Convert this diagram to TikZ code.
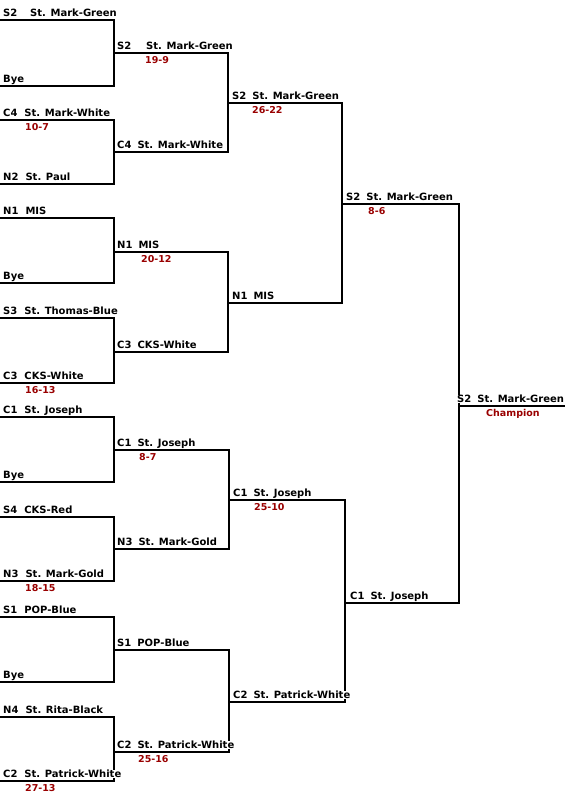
\documentclass[tikz,border=0pt]{standalone}
\usepackage{fontspec}
\setmainfont{DejaVu Sans}
\usetikzlibrary{positioning}
\definecolor{scorered}{RGB}{153,0,0}
\newcommand{\teamlabel}[3][7pt]{#2\hspace{#1}#3}

\begin{document}
\begin{tikzpicture}[x=1pt,y=-1pt,
    bracket/.style={line width=2pt},
    team/.style={anchor=base west,inner sep=0pt,text depth=0pt,fill=white,
      font=\bfseries\fontsize{10}{12}\selectfont,xshift=3pt,yshift=3.5pt},
    result/.style={anchor=base west,inner sep=0pt,text=scorered,
      font=\bfseries\fontsize{9.5}{11}\selectfont,xshift=25pt,yshift=-10.5pt}]
  \useasboundingbox (0,0) rectangle (565,800);

  % first round
  \coordinate (a1) at (0,20);   \coordinate (a2) at (0,86);
  \coordinate (a3) at (0,120);  \coordinate (a4) at (0,184);
  \coordinate (a5) at (0,218);  \coordinate (a6) at (0,283);
  \coordinate (a7) at (0,318);  \coordinate (a8) at (0,383);
  \coordinate (a9) at (0,417);  \coordinate (a10) at (0,482);
  \coordinate (a11) at (0,517); \coordinate (a12) at (0,581);
  \coordinate (a13) at (0,617); \coordinate (a14) at (0,682);
  \coordinate (a15) at (0,717); \coordinate (a16) at (0,781);
  % second round
  \coordinate (b1) at (114,53);  \coordinate (b2) at (114,152);
  \coordinate (b3) at (114,252); \coordinate (b4) at (114,352);
  \coordinate (b5) at (114,450); \coordinate (b6) at (114,549);
  \coordinate (b7) at (114,650); \coordinate (b8) at (114,752);
  % semifinals and final
  \coordinate (c1) at (228,103); \coordinate (c2) at (228,303);
  \coordinate (c3) at (229,500); \coordinate (c4) at (229,702);
  \coordinate (d1) at (342,204); \coordinate (d2) at (345,603);
  \coordinate (e) at (459,406);  \coordinate (eend) at (565,406);

  \draw[bracket] (a1) -| (b1) |- (a2);
  \draw[bracket] (a3) -| (b2) |- (a4);
  \draw[bracket] (a5) -| (b3) |- (a6);
  \draw[bracket] (a7) -| (b4) |- (a8);
  \draw[bracket] (a9) -| (b5) |- (a10);
  \draw[bracket] (a11) -| (b6) |- (a12);
  \draw[bracket] (a13) -| (b7) |- (a14);
  \draw[bracket] (a15) -| (b8) |- (a16);
  \draw[bracket] (b1) -| (c1) |- (b2);
  \draw[bracket] (b3) -| (c2) |- (b4);
  \draw[bracket] (b5) -| (c3) |- (b6);
  \draw[bracket] (b7) -| (c4) |- (b8);
  \draw[bracket] (c1) -| (d1) |- (c2);
  \draw[bracket] (c3) -| (d2) |- (c4);
  \draw[bracket] (d1) -| (e) |- (d2);
  \draw[bracket] (e) -- (eend);

  % team names
  \node[team] (ta1) at (a1) {\teamlabel[12.8pt]{S2}{St. Mark-Green}};
  \node[team] (ta2) at (a2) {Bye};
  \node[team] (ta3) at (a3) {\teamlabel{C4}{St. Mark-White}};
  \node[team] (ta4) at (a4) {\teamlabel{N2}{St. Paul}};
  \node[team] (ta5) at (a5) {\teamlabel{N1}{MIS}};
  \node[team] (ta6) at (a6) {Bye};
  \node[team] (ta7) at (a7) {\teamlabel{S3}{St. Thomas-Blue}};
  \node[team] (ta8) at (a8) {\teamlabel{C3}{CKS-White}};
  \node[team] (ta9) at (a9) {\teamlabel{C1}{St. Joseph}};
  \node[team] (ta10) at (a10) {Bye};
  \node[team] (ta11) at (a11) {\teamlabel{S4}{CKS-Red}};
  \node[team] (ta12) at (a12) {\teamlabel{N3}{St. Mark-Gold}};
  \node[team] (ta13) at (a13) {\teamlabel{S1}{POP-Blue}};
  \node[team] (ta14) at (a14) {Bye};
  \node[team] (ta15) at (a15) {\teamlabel{N4}{St. Rita-Black}};
  \node[team] (ta16) at (a16) {\teamlabel{C2}{St. Patrick-White}};

  \node[team] (tb1) at (b1) {\teamlabel[14.8pt]{S2}{St. Mark-Green}};
  \node[team] (tb2) at (b2) {\teamlabel[6pt]{C4}{St. Mark-White}};
  \node[team] (tb3) at (b3) {\teamlabel[6pt]{N1}{MIS}};
  \node[team] (tb4) at (b4) {\teamlabel[6pt]{C3}{CKS-White}};
  \node[team] (tb5) at (b5) {\teamlabel[6pt]{C1}{St. Joseph}};
  \node[team] (tb6) at (b6) {\teamlabel[6pt]{N3}{St. Mark-Gold}};
  \node[team] (tb7) at (b7) {\teamlabel[6pt]{S1}{POP-Blue}};
  \node[team] (tb8) at (b8) {\teamlabel[6pt]{C2}{St. Patrick-White}};

  \node[team,xshift=1pt] (tc1) at (c1) {\teamlabel[6pt]{S2}{St. Mark-Green}};
  \node[team,xshift=1pt] (tc2) at (c2) {\teamlabel[6pt]{N1}{MIS}};
  \node[team,xshift=1pt] (tc3) at (c3) {\teamlabel[6pt]{C1}{St. Joseph}};
  \node[team,xshift=1pt] (tc4) at (c4) {\teamlabel[6pt]{C2}{St. Patrick-White}};
  \node[team,xshift=1pt] (td1) at (d1) {\teamlabel[6pt]{S2}{St. Mark-Green}};
  \node[team,xshift=2pt] (td2) at (d2) {\teamlabel[6pt]{C1}{St. Joseph}};
  \node[team,xshift=-5pt] (te) at (e) {\teamlabel[6pt]{S2}{St. Mark-Green}};

  % scores
  \node[result] (sa3) at (a3) {10-7};
  \node[result] (sa8) at (a8) {16-13};
  \node[result] (sa12) at (a12) {18-15};
  \node[result] (sa16) at (a16) {27-13};
  \node[result,xshift=6pt] (sb1) at (b1) {19-9};
  \node[result,xshift=2pt] (sb3) at (b3) {20-12};
  \node[result] (sb5) at (b5) {8-7};
  \node[result,xshift=-1pt] (sb8) at (b8) {25-16};
  \node[result,xshift=-1pt] (sc1) at (c1) {26-22};
  \node[result] (sc3) at (c3) {25-10};
  \node[result,xshift=1pt] (sd1) at (d1) {8-6};
  \node[result,xshift=2pt] (champ) at (e) {Champion};
\end{tikzpicture}
\end{document}
